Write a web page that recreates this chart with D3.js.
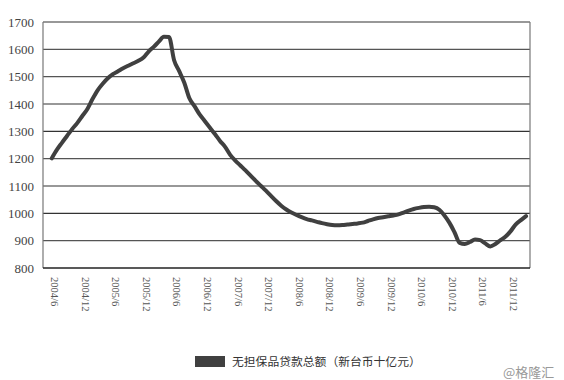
<!DOCTYPE html>
<html><head><meta charset="utf-8">
<script src="https://cdn.jsdelivr.net/npm/d3@7/dist/d3.min.js"></script>
<style>body{margin:0;background:#fff}</style>
</head><body>
<script>
// Monthly data from 2004/6 to 2012/3
const startYear = 2004, startMonth = 6;
const values = [1201,1232,1258,1283,1308,1330,1356,1382,1418,1450,1474,1494,1509,1520,1531,1540,1549,1558,1570,1592,1609,1628,1646,1645,1560,1520,1478,1421,1392,1362,1338,1314,1290,1265,1243,1214,1193,1175,1157,1138,1119,1101,1083,1064,1045,1028,1014,1003,994,986,979,974,969,964,960,957,956,957,959,961,963,966,972,978,983,986,989,992,996,1003,1010,1016,1020,1023,1024,1022,1013,992,965,930,892,888,895,904,902,890,879,888,902,915,935,960,975,990];
const yTicks = [800,900,1000,1100,1200,1300,1400,1500,1600,1700];
const xTickLabels = ["2004/6","2004/12","2005/6","2005/12","2006/6","2006/12","2007/6","2007/12","2008/6","2008/12","2009/6","2009/12","2010/6","2010/12","2011/6","2011/12"];
const legendLabel = "无担保品贷款总额（新台币十亿元）";
const watermark = "@格隆汇";

const W = 564, H = 380;
const svg = d3.select("body").append("svg").attr("width", W).attr("height", H);
const pL = 43, pR = 530, pT = 22, pB = 268;

const x = d3.scaleLinear().domain([0, 93]).range([51.7, 526]);
const y = d3.scaleLinear().domain([800, 1700]).range([pB, pT]);

// gridlines
svg.append("g").selectAll("line").data(yTicks.filter(d => d > 800)).join("line")
  .attr("x1", pL).attr("x2", pR)
  .attr("y1", d => y(d)).attr("y2", d => y(d))
  .attr("stroke", (d, i) => [0,3,6,7].includes(i) ? "#555" : "#333")
  .attr("stroke-width", 1.2);

// frame
svg.append("line").attr("x1", pL).attr("x2", pL).attr("y1", pT).attr("y2", pB).attr("stroke", "#777").attr("stroke-width", 1.2);
svg.append("line").attr("x1", pR).attr("x2", pR).attr("y1", pT).attr("y2", pB).attr("stroke", "#777").attr("stroke-width", 1.2);
svg.append("line").attr("x1", pL).attr("x2", pR).attr("y1", pB).attr("y2", pB).attr("stroke", "#222").attr("stroke-width", 1.4);

// y labels
svg.append("g").selectAll("text").data(yTicks).join("text")
  .attr("x", 34).attr("y", d => y(d)).attr("dy", "0.35em")
  .attr("text-anchor", "end")
  .attr("font-family", "Liberation Serif, serif").attr("font-size", 13)
  .attr("fill", "#444").text(d => d);

// x labels (rotated 90deg)
svg.append("g").selectAll("text").data(xTickLabels).join("text")
  .attr("transform", (d, i) => `translate(${x(i * 6) + 3},277) rotate(90)`)
  .attr("dy", "0.35em")
  .attr("font-family", "Liberation Serif, serif").attr("font-size", 10.5)
  .attr("fill", "#555").text(d => d);

// line
const line = d3.line().x((d, i) => x(i)).y(d => y(d)).curve(d3.curveMonotoneX);
svg.append("path").datum(values).attr("d", line)
  .attr("fill", "none").attr("stroke", "#404040").attr("stroke-width", 4)
  .attr("stroke-linejoin", "round").attr("stroke-linecap", "round");

// legend
svg.append("rect").attr("x", 195).attr("y", 356).attr("width", 30).attr("height", 11).attr("fill", "#404040");
svg.append("text").attr("x", 232).attr("y", 362).attr("dy", "0.35em")
  .attr("font-family", "Noto Sans CJK SC, sans-serif").attr("font-size", 11.8)
  .attr("fill", "#333").text(legendLabel);

svg.append("text").attr("x", 503).attr("y", 372).attr("dy", "0.35em")
  .attr("font-family", "Noto Sans CJK SC, sans-serif").attr("font-size", 13)
  .attr("fill", "#999").text(watermark);
</script>
</body></html>
